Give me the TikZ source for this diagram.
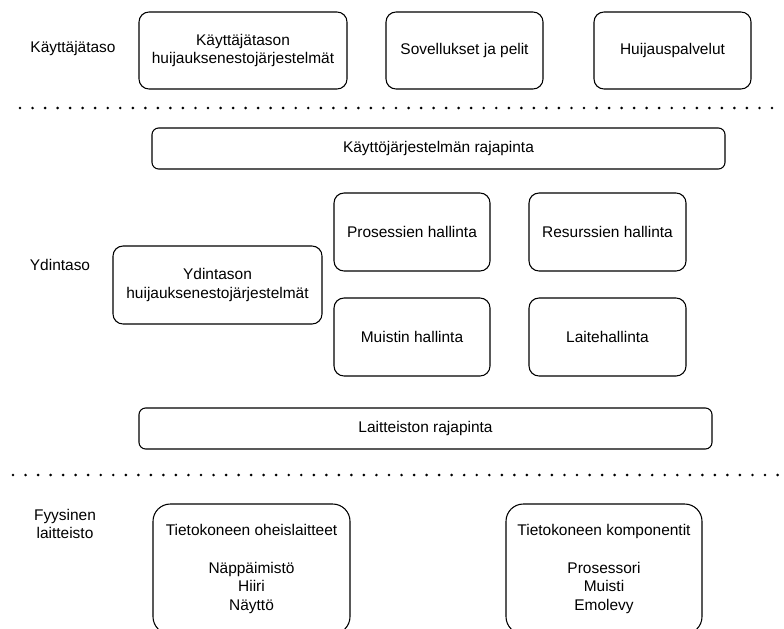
\documentclass[tikz,border=0pt]{standalone}
\usepackage{fontspec}
\setmainfont{Liberation Sans}
\usetikzlibrary{positioning, calc}
\def \px {0.75pt}
\def \boxH {77*\px}
\def \bandH {41*\px}
\def \bandW {573*\px}
\def \lineSkip {13.9pt}
\tikzset{
	levellabel/.style= {draw=none, align=center, inner sep=0pt, font=\fontsize{11.6}{13.9}\selectfont},
	block/.style= {draw, line width=0.8pt, rectangle, rounded corners=7.5pt, align=center, inner sep=0pt, minimum height=\boxH, font=\fontsize{11.6}{13.9}\selectfont},
	band/.style= {draw, line width=0.8pt, rectangle, rounded corners=5pt, align=center, inner sep=0pt, minimum width=\bandW, minimum height=\bandH, font=\fontsize{11.6}{13.9}\selectfont},
	bigblock/.style= {block, rounded corners=13pt, minimum height=130*\px},
	separator/.style= {line width=2.2pt, line cap=round, dash pattern=on 0pt off 9.4pt}
}
\begin{document}
\begin{tikzpicture}[x=\px, y=-\px]
	\clip (0,0) rectangle (784,628);
	\fill[white] (0,0) rectangle (784,628);

%%%%%%%%%%%%%%%%%%%%% User level %%%%%%%%%%%%%%%%%%%%%
	\node [levellabel] (UL) at (73,49) {Käyttäjätaso};
	\node [block, minimum width=208*\px] (UAC) at (243,50.5) {Käyttäjätason\\huijauksenestojärjestelmät};
	\node [block, minimum width=157*\px] (Apps) at (464.5,50.5) {Sovellukset ja pelit};
	\node [block, minimum width=157*\px] (Cheat) at (672.5,50.5) {Huijauspalvelut};

	\coordinate (Sep1W) at (20,108);
	\coordinate (Sep1E) at (784,108);
	\draw [separator] (Sep1W) -- (Sep1E);

%%%%%%%%%%%%%%%%%%%%% Kernel level %%%%%%%%%%%%%%%%%%%%%
	\node [band] (OSAPI) at (438.5,148.5) {Käyttöjärjestelmän rajapinta};

	\node [levellabel] (KL) at (60,265) {Ydintaso};
	\node [block, minimum width=209*\px, minimum height=78*\px] (KAC) at (217.5,285) {Ydintason\\huijauksenestojärjestelmät};

	\node [block, minimum width=156*\px, minimum height=78*\px] (Proc) at (412,232) {Prosessien hallinta};
	\node [block, minimum width=157*\px, minimum height=78*\px] (Res) at (607.5,232) {Resurssien hallinta};
	\node [block, minimum width=156*\px, minimum height=78*\px] (Mem) at (412,337) {Muistin hallinta};
	\node [block, minimum width=157*\px, minimum height=78*\px] (Dev) at (607.5,337) {Laitehallinta};

	\node [band] (HWAPI) at (425.5,428.5) {Laitteiston rajapinta};

	\coordinate (Sep2W) at (13,475);
	\coordinate (Sep2E) at (784,475);
	\draw [separator] (Sep2W) -- (Sep2E);

%%%%%%%%%%%%%%%%%%%%% Hardware %%%%%%%%%%%%%%%%%%%%%
	\node [levellabel] (HL) at (65,524) {Fyysinen\\laitteisto};
	\node [bigblock, minimum width=197*\px] (Periph) at (251.5,569) {Tietokoneen oheislaitteet\\[\lineSkip]Näppäimistö\\Hiiri\\Näyttö};
	\node [bigblock, minimum width=196*\px] (Comp) at (604,569) {Tietokoneen komponentit\\[\lineSkip]Prosessori\\Muisti\\Emolevy};

\end{tikzpicture}
\end{document}
